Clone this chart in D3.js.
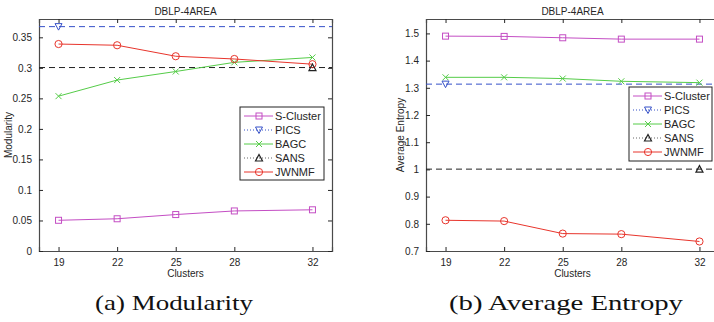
<!DOCTYPE html>
<html>
<head>
<meta charset="utf-8">
<script src="https://cdn.jsdelivr.net/npm/d3@7"></script>
<style>
  body { margin: 0; background: #fff; }
  svg { display: block; }
  text { font-family: "Liberation Sans", Arial, sans-serif; fill: #262626; }
  .caption { font-family: "Liberation Serif", "DejaVu Serif", serif; fill: #111; }
</style>
</head>
<body>
<svg id="chart" width="714" height="322"></svg>
<script>
// chart data
const clusters = [19, 22, 25, 28, 32];
const xTicks = [19, 22, 25, 28, 32];

const modSCluster = [0.0503, 0.0528, 0.0597, 0.0656, 0.0675];
const modBAGC = [0.2536, 0.2800, 0.2940, 0.3090, 0.3170];
const modJWNMF = [0.3390, 0.3370, 0.3190, 0.3145, 0.3060];
const modPICS = 0.3675;
const modSANS = 0.3005;
const modTicks = [0, 0.05, 0.1, 0.15, 0.2, 0.25, 0.3, 0.35];

const entSCluster = [1.490, 1.489, 1.484, 1.479, 1.479];
const entBAGC = [1.3386, 1.3386, 1.3340, 1.3240, 1.3190];
const entJWNMF = [0.813, 0.810, 0.764, 0.762, 0.735];
const entPICS = 1.3135;
const entSANS = 1.0010;
const entTicks = [0.7, 0.8, 0.9, 1, 1.1, 1.2, 1.3, 1.4, 1.5];

const names = ['S-Cluster', 'PICS', 'BAGC', 'SANS', 'JWNMF'];
const colors = {
  'S-Cluster': '#c44ec4',
  'PICS': '#3550c8',
  'BAGC': '#55cc48',
  'SANS': '#222222',
  'JWNMF': '#e8352c'
};

const svg = d3.select('#chart');

function marker(g, type, cx, cy, color) {
  if (type === 'S-Cluster') {
    g.append('rect').attr('x', cx - 3).attr('y', cy - 3).attr('width', 6).attr('height', 6)
      .attr('fill', 'none').attr('stroke', color).attr('stroke-width', 1);
  } else if (type === 'PICS') {
    g.append('path').attr('d', `M${cx - 3.5},${cy - 3}L${cx + 3.5},${cy - 3}L${cx},${cy + 3.5}Z`)
      .attr('fill', 'none').attr('stroke', color).attr('stroke-width', 1);
  } else if (type === 'SANS') {
    g.append('path').attr('d', `M${cx - 3.5},${cy + 3}L${cx + 3.5},${cy + 3}L${cx},${cy - 3.5}Z`)
      .attr('fill', 'none').attr('stroke', color).attr('stroke-width', 1.2);
  } else if (type === 'BAGC') {
    g.append('path').attr('d', `M${cx - 3},${cy - 3}L${cx + 3},${cy + 3}M${cx - 3},${cy + 3}L${cx + 3},${cy - 3}`)
      .attr('stroke', color).attr('stroke-width', 1);
  } else {
    g.append('circle').attr('cx', cx).attr('cy', cy).attr('r', 3.6)
      .attr('fill', 'none').attr('stroke', color).attr('stroke-width', 1);
  }
}

function drawPanel(opt) {
  const x = d3.scaleLinear().domain([18, 33]).range([opt.left, opt.left + 293]);
  const y = d3.scaleLinear().domain(opt.yDomain).range([251, 19]);
  const g = svg.append('g');

  // box + ticks (matlab style, ticks inside)
  const xl = opt.left, xr = opt.left + 293;
  g.append('g').attr('transform', 'translate(0,251)')
    .call(d3.axisBottom(x).tickValues(xTicks).tickSize(-4).tickPadding(8).tickFormat(d3.format('d')));
  g.append('g').attr('transform', 'translate(0,19)')
    .call(d3.axisTop(x).tickValues(xTicks).tickSize(-4).tickFormat(''));
  g.append('g').attr('transform', `translate(${xl},0)`)
    .call(d3.axisLeft(y).tickValues(opt.ticks).tickSize(-4).tickPadding(7).tickFormat(d => String(+d.toFixed(2))));
  g.append('g').attr('transform', `translate(${xr},0)`)
    .call(d3.axisRight(y).tickValues(opt.ticks).tickSize(-4).tickFormat(''));
  g.selectAll('.domain').attr('stroke', '#4a4a4a').attr('stroke-width', 1.2);
  g.selectAll('.tick line').attr('stroke', '#262626');
  g.selectAll('.tick text').attr('font-size', 10).attr('fill', '#262626')
    .attr('font-family', '"Liberation Sans", Arial, sans-serif');

  // reference lines
  g.append('line').attr('x1', xl).attr('x2', xr).attr('y1', y(opt.pics)).attr('y2', y(opt.pics))
    .attr('stroke', colors['PICS']).attr('stroke-width', 1).attr('stroke-dasharray', '6,4');
  g.append('line').attr('x1', xl).attr('x2', xr).attr('y1', y(opt.sans)).attr('y2', y(opt.sans))
    .attr('stroke', '#222').attr('stroke-width', 1).attr('stroke-dasharray', '6,4');

  const line = d3.line().x((d, i) => x(clusters[i])).y(d => y(d));
  const series = [['S-Cluster', opt.scluster], ['BAGC', opt.bagc], ['JWNMF', opt.jwnmf]];
  series.forEach(([name, vals]) => {
    g.append('path').datum(vals).attr('d', line).attr('fill', 'none')
      .attr('stroke', colors[name]).attr('stroke-width', 1);
    vals.forEach((v, i) => marker(g, name, x(clusters[i]), y(v), colors[name]));
  });
  marker(g, 'PICS', x(19), y(opt.pics), colors['PICS']);
  marker(g, 'SANS', x(32), y(opt.sans), colors['SANS']);

  // labels
  g.append('text').attr('x', (xl + xr) / 2).attr('y', 15).attr('text-anchor', 'middle')
    .attr('font-size', 10).text('DBLP-4AREA');
  g.append('text').attr('x', (xl + xr) / 2).attr('y', 277).attr('text-anchor', 'middle')
    .attr('font-size', 10).text('Clusters');
  g.append('text').attr('transform', `translate(${opt.yLabelX},135) rotate(-90)`)
    .attr('text-anchor', 'middle').attr('font-size', 10).text(opt.yLabel);
  g.append('text').attr('class', 'caption').attr('x', opt.capX).attr('y', 310)
    .attr('text-anchor', 'middle').attr('font-size', 22)
    .attr('textLength', opt.capW).attr('lengthAdjust', 'spacingAndGlyphs').text(opt.caption);

  // legend
  const L = opt.legend;
  const lg = g.append('g');
  lg.append('rect').attr('x', L.x).attr('y', L.y).attr('width', L.w).attr('height', L.h)
    .attr('fill', '#fff').attr('stroke', '#222').attr('stroke-width', 1);
  names.forEach((name, i) => {
    const cy = L.y + 9 + L.step * i;
    const dashed = name === 'PICS' || name === 'SANS';
    lg.append('line').attr('x1', L.x + 4).attr('x2', L.x + 33).attr('y1', cy).attr('y2', cy)
      .attr('stroke', dashed ? (name === 'PICS' ? colors[name] : '#666') : colors[name])
      .attr('stroke-width', 1).attr('stroke-dasharray', dashed ? '1,2' : null);
    marker(lg, name, L.x + 19, cy, colors[name]);
    lg.append('text').attr('x', L.x + 35).attr('y', cy + 4).attr('font-size', 11).text(name);
  });
}

drawPanel({
  left: 39, yDomain: [0, 0.38], ticks: modTicks,
  scluster: modSCluster, bagc: modBAGC, jwnmf: modJWNMF, pics: modPICS, sans: modSANS,
  yLabel: 'Modularity', yLabelX: 12, caption: '(a) Modularity', capX: 174, capW: 158,
  legend: { x: 240, y: 107, w: 84, h: 73, step: 14 }
});
drawPanel({
  left: 426, yDomain: [0.7, 1.553], ticks: entTicks,
  scluster: entSCluster, bagc: entBAGC, jwnmf: entJWNMF, pics: entPICS, sans: entSANS,
  yLabel: 'Average Entropy', yLabelX: 404, caption: '(b) Average Entropy', capX: 566, capW: 234,
  legend: { x: 629, y: 87, w: 83, h: 74, step: 14 }
});
</script>
</body>
</html>
